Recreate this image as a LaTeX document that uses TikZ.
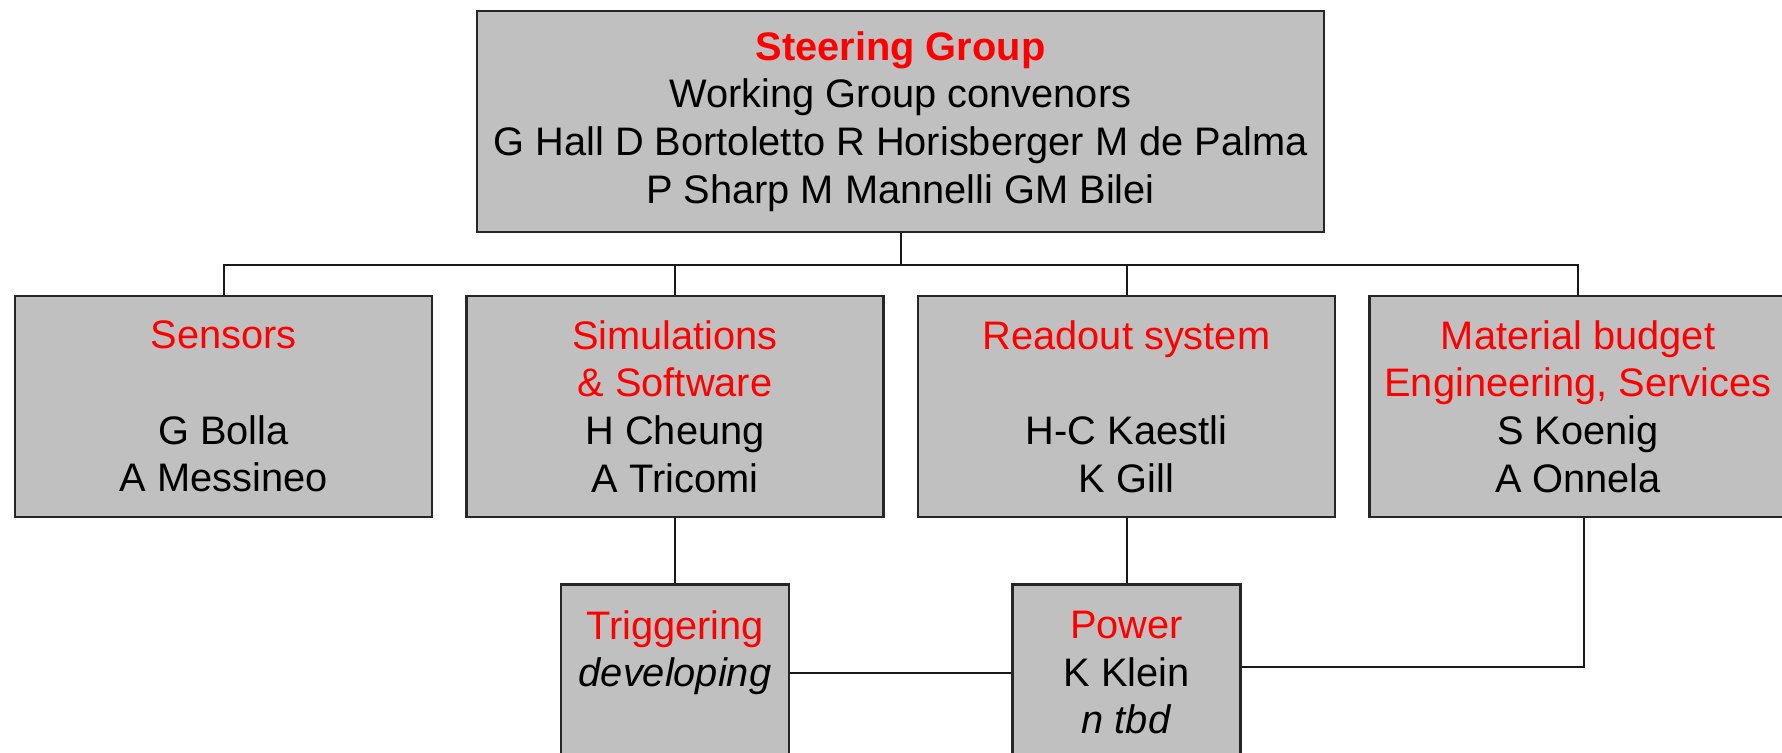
\documentclass[tikz,border=0pt]{standalone}
\usepackage{fontspec}
\setmainfont{Liberation Sans}
\usepackage{xcolor}
\usepackage{tikz}
\usetikzlibrary{positioning,calc}
\definecolor{boxgray}{RGB}{192,192,192}
\definecolor{rolered}{RGB}{255,0,0}
\newcommand{\grouprole}[1]{\textcolor{rolered}{#1}}
\tikzset{
    chart box/.style={
        draw=black!85,
        line width=1.25pt,
        fill=boxgray,
        minimum height=110.5pt,
        minimum width=208.5pt,
        align=center,
        font=\fontsize{19.9}{23.9}\selectfont,
        inner sep=2pt
    },
    chart top/.style={chart box, minimum width=423.5pt},
    chart sub/.style={chart box, minimum width=114pt, minimum height=88pt},
    chart link/.style={line width=1pt, draw=black!90}
}

\begin{document}
\begin{tikzpicture}[node distance=16pt]
\useasboundingbox (0,0) rectangle (891pt,-376pt);

% Steering group
\node[chart top] (top) at (450.25pt,-60.75pt) {\textbf{\grouprole{Steering Group}}\\ Working Group convenors\\ G Hall D Bortoletto R Horisberger M de Palma\\ P Sharp M Mannelli GM Bilei};

% Working groups
\node[chart box] (sens) at (111.75pt,-203.25pt) {\grouprole{Sensors}\\ ~\\ G Bolla\\ A Messineo};
\node[chart box, right=of sens] (sim) {\grouprole{Simulations}\\ \grouprole{\& Software}\\ H Cheung\\ A Tricomi};
\node[chart box, right=of sim] (read) {\grouprole{Readout system}\\ ~\\ H-C Kaestli\\ K Gill};
\node[chart box, right=of read] (mat) {\grouprole{Material budget}\\ \grouprole{Engineering, Services}\\ S Koenig\\ A Onnela};

% Task forces
\node[chart sub, below=32.5pt of sim] (trig) {\grouprole{Triggering}\\ \textit{developing}\\ ~};
\node[chart sub, below=32.5pt of read] (pow) {\grouprole{Power}\\ K Klein\\ \textit{n tbd}};

% Connectors
\coordinate (bus) at ($(top.south)+(0,-16pt)$);
\draw[chart link] (top.south) -- (bus);
\foreach \g in {sens,sim,read,mat}
    \draw[chart link] (\g.north) |- (bus);
\draw[chart link] (sim.south) -- (trig.north);
\draw[chart link] (read.south) -- (pow.north);
\draw[chart link] (trig.east) -- (pow.west);
\coordinate (matfoot) at ([xshift=3pt]mat.south);
\draw[chart link] ([yshift=3pt]pow.east) -| (matfoot);
\end{tikzpicture}
\end{document}
